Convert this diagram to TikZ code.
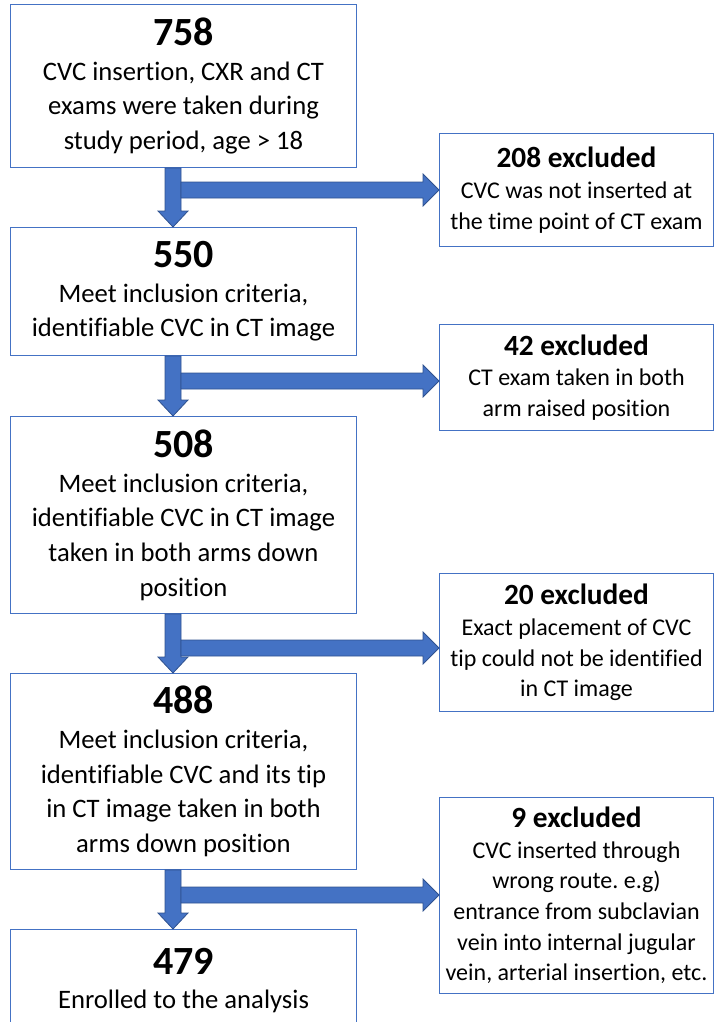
\documentclass[tikz,border=0pt]{standalone}
\usepackage{fontspec}
\setmainfont{Carlito}[RawFeature={-liga;-clig;-dlig;-calt}]
\usetikzlibrary{calc}
\frenchspacing
\definecolor{boxline}{HTML}{4472C4}
\definecolor{arrfill}{HTML}{4472C4}
\definecolor{arrline}{HTML}{2F528F}
\newdimen\pxu \pxu=0.75pt
\newcommand{\ltitle}[1]{{\fontsize{30}{34}\selectfont\bfseries #1}}
\newcommand{\rtitle}[1]{{\fontsize{22}{26}\selectfont\bfseries #1}}
\newcommand{\varrow}[2]{%
  \draw[blockarrow] ($(#1.south west)+(155,0)$) -- ($(#1.south west)+(171,0)$)
    -- ($(#2.north west)+(171,-16)$) -- ($(#2.north west)+(178,-16)$)
    -- ($(#2.north west)+(163,0)$) -- ($(#2.north west)+(148,-16)$)
    -- ($(#2.north west)+(155,-16)$) -- cycle;}
\newcommand{\harrow}[2]{%
  \draw[blockarrow] ($(#1)+(0,-8)$) -- ($(#2)+(-16,-8)$) -- ($(#2)+(-16,-16)$)
    -- (#2) -- ($(#2)+(-16,16)$) -- ($(#2)+(-16,8)$) -- ($(#1)+(0,8)$) -- cycle;}
\begin{document}
\frenchspacing
\begin{tikzpicture}[x=0.75pt,y=-0.75pt,
  lbox/.style={draw=boxline, line width=1\pxu, anchor=north west, minimum width=346\pxu,
    align=center, inner sep=0pt, font=\fontsize{20}{26}\selectfont\frenchspacing},
  rbox/.style={draw=boxline, line width=1\pxu, anchor=north west, minimum width=274\pxu,
    align=center, inner sep=0pt, font=\fontsize{18}{23}\selectfont\frenchspacing},
  blockarrow/.style={fill=arrfill, draw=arrline, line width=0.8\pxu, line join=miter}]
\useasboundingbox (0,0) rectangle (714,1022);
\clip (0,0) rectangle (714,1022);
% left column
\node[lbox, minimum height=163\pxu] (b1) at (10,4)
  {\ltitle{758}\\CVC insertion, CXR and CT\\exams were taken during\\study period, age > 18};
\node[lbox, minimum height=128\pxu] (b2) at (10,227)
  {\ltitle{550}\\Meet inclusion criteria,\\identifiable CVC in CT image};
\node[lbox, minimum height=197\pxu] (b3) at (10,416)
  {\ltitle{508}\\Meet inclusion criteria,\\identifiable CVC in CT image\\taken in both arms down\\position};
\node[lbox, minimum height=196\pxu] (b4) at (10,673)
  {\ltitle{488}\\Meet inclusion criteria,\\identifiable CVC and its tip\\in CT image taken in both\\arms down position};
\node[lbox, minimum height=102\pxu] (b5) at (10,929)
  {\ltitle{479}\\Enrolled to the analysis};
% right column
\node[rbox, minimum height=113\pxu] (r1) at (439,133)
  {\rtitle{208 excluded}\\CVC was not inserted at\\the time point of CT exam};
\node[rbox, minimum height=106\pxu] (r2) at (439,324)
  {\rtitle{42 excluded}\\CT exam taken in both\\arm raised position};
\node[rbox, minimum height=138\pxu] (r3) at (439,573)
  {\rtitle{20 excluded}\\Exact placement of CVC\\tip could not be identified\\in CT image};
\node[rbox, minimum height=196\pxu] (r4) at (439,797)
  {\rtitle{9 excluded}\\CVC inserted through\\wrong route. e.g)\\entrance from subclavian\\vein into internal jugular\\vein, arterial insertion, etc.};
% arrows
\varrow{b1}{b2}
\varrow{b2}{b3}
\varrow{b3}{b4}
\varrow{b4}{b5}
\coordinate (h1s) at ($(b1.south west)+(171,22)$);
\coordinate (h1e) at (r1.west |- h1s);
\coordinate (h2s) at ($(b2.south west)+(171,25)$);
\coordinate (h2e) at (r2.west |- h2s);
\coordinate (h3s) at ($(b3.south west)+(171,34)$);
\coordinate (h3e) at (r3.west |- h3s);
\coordinate (h4s) at ($(b4.south west)+(171,25)$);
\coordinate (h4e) at (r4.west |- h4s);
\harrow{h1s}{h1e}
\harrow{h2s}{h2e}
\harrow{h3s}{h3e}
\harrow{h4s}{h4e}
\end{tikzpicture}
\end{document}
